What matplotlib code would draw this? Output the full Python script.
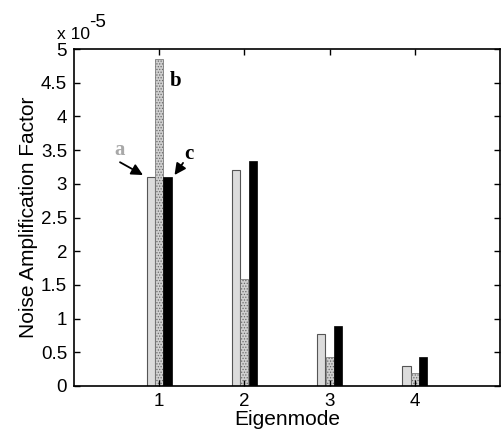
import matplotlib
matplotlib.use("Agg")
import matplotlib.pyplot as plt
import numpy as np

#%% Data (units of 1e-5)
modes = [1, 2, 3, 4]
series_a = [3.10, 3.21, 0.77, 0.30]
series_b = [4.85, 1.59, 0.43, 0.19]
series_c = [3.10, 3.34, 0.89, 0.43]

plt.rcParams['font.family'] = ['Liberation Sans', 'DejaVu Sans']
plt.rcParams['hatch.linewidth'] = 0.6

#%% Plot
fig = plt.figure(figsize=(5.03, 4.37), dpi=100)
ax = fig.add_axes([74 / 503, 1 - 386 / 437, 426 / 503, 337 / 437])

x = np.array(modes)
w = 0.095
ax.bar(x - 0.097, series_a, w, color='#dcdcdc', edgecolor='#555555', linewidth=0.8)
ax.bar(x, series_b, w, color='#d0d0d0', edgecolor='#6a6a6a', hatch='......', linewidth=0.5)
ax.bar(x + 0.097, series_c, w, color='black', edgecolor='black', linewidth=0.5)

ax.set_xlim(0, 5)
ax.set_ylim(0, 5)
ax.set_xticks(modes)
ax.set_yticks(np.arange(0, 5.01, 0.5))
ax.set_yticklabels(['0', '0.5', '1', '1.5', '2', '2.5', '3', '3.5', '4', '4.5', '5'])
ax.tick_params(direction='in', top=True, right=True, labelsize=13.5, length=4, width=1, pad=5)
for s in ax.spines.values():
    s.set_linewidth(1.2)

ax.set_xlabel('Eigenmode', fontsize=15, labelpad=0)
ax.set_ylabel('Noise Amplification Factor', fontsize=15, labelpad=2)
# exponent label, MATLAB style
fig.text(57 / 503, 1 - 39 / 437, 'x 10', fontsize=12.5, va='baseline')
fig.text(89 / 503, 1 - 27 / 437, '-5', fontsize=13.5, va='baseline')

# annotations
serif = dict(family='Liberation Serif', fontweight='bold', fontsize=15)
arrow = dict(arrowstyle='-|>', color='black', lw=1.3, mutation_scale=17,
             shrinkA=0, shrinkB=0)
ax.text(0.53, 3.43, 'a', color='#a8a8a8', ha='center', va='baseline', **serif)
ax.annotate('', xy=(0.81, 3.13), xytext=(0.54, 3.32), arrowprops=arrow)
ax.text(1.125, 4.45, 'b', ha='left', va='baseline', **serif)
ax.text(1.35, 3.37, 'c', ha='center', va='baseline', **serif)
ax.annotate('', xy=(1.18, 3.13), xytext=(1.28, 3.31), arrowprops=arrow)

fig.savefig('out.png', dpi=100)
